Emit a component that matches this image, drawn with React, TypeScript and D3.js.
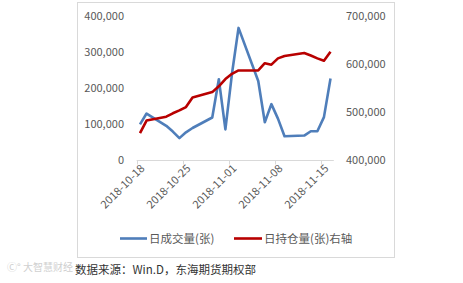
import React from "react";
import * as d3 from "d3";

const dates = [
  "2018-10-18", "2018-10-19", "2018-10-22", "2018-10-23", "2018-10-24", "2018-10-25", "2018-10-26",
  "2018-10-29", "2018-10-30", "2018-10-31", "2018-11-01", "2018-11-02",
  "2018-11-05", "2018-11-06", "2018-11-07", "2018-11-08", "2018-11-09",
  "2018-11-12", "2018-11-13", "2018-11-14", "2018-11-15", "2018-11-16",
];
const volume = [
  100000, 130000, 96000, 80000, 62000, 78000, 90000,
  119000, 225000, 86000, 240000, 367000,
  220000, 106000, 156000, 116000, 67000,
  69000, 81000, 81000, 120000, 227000,
];
const openInterest = [
  457000, 483000, 491000, 498000, 504000, 511000, 531000,
  542000, 554000, 569000, 580000, 587000,
  587000, 602000, 599000, 612000, 617000,
  623000, 618000, 612000, 607000, 626000,
];
const xTickLabels = ["2018-10-18", "2018-10-25", "2018-11-01", "2018-11-08", "2018-11-15"];
const leftTicks = [0, 100000, 200000, 300000, 400000];
const rightTicks = [400000, 500000, 600000, 700000];
const seriesNames = ["日成交量(张)", "日持仓量(张)右轴"];
const sourceText = "数据来源：Win.D，东海期货期权部";

const parse = d3.timeParse("%Y-%m-%d");
const FONT = "'Noto Sans CJK SC', 'Noto Sans', sans-serif";

export default function App() {
  const dayMs = 86400000;
  const start = parse(dates[0])!;
  const end = new Date(parse(dates[dates.length - 1])!.getTime() + dayMs);
  const x = d3.scaleTime().domain([start, end]).range([136.7, 333.8]);
  const xc = (s: string) => x(new Date(parse(s)!.getTime() + dayMs / 2));
  const yL = d3.scaleLinear().domain([0, 400000]).range([160.5, 16]);
  const yR = d3.scaleLinear().domain([400000, 700000]).range([160.5, 16]);
  const fmt = d3.format(",");

  const lineL = d3.line<number>().x((_, i) => xc(dates[i])).y((v) => yL(v));
  const lineR = d3.line<number>().x((_, i) => xc(dates[i])).y((v) => yR(v));

  const blue = "#4F7EBA";
  const red = "#B80000";
  const axisY = yL(0);

  return (
    <svg width={463} height={283} style={{ position: "fixed", left: 0, top: 0, background: "#fff" }}
      fontFamily={FONT}>
      <rect x={0} y={0} width={463} height={283} fill="#fff" />
      <rect x={77.5} y={2.5} width={317} height={255} fill="none" stroke="#d9d9d9" strokeWidth={1} />
      {/* x axis */}
      <line x1={x.range()[0]} x2={x.range()[1]} y1={axisY} y2={axisY} stroke="#d9d9d9" strokeWidth={1} />
      {xTickLabels.map((t) => {
        const tx = Math.round(x(parse(t)!)) + 0.5;
        return (
          <g key={t}>
            <line x1={tx} x2={tx} y1={axisY} y2={axisY + 4} stroke="#d9d9d9" strokeWidth={1} />
            <text transform={`translate(${tx + 5},${axisY + 6}) rotate(-45)`} textAnchor="end"
              fontSize={11} fill="#595959" dy="0.35em">{t}</text>
          </g>
        );
      })}
      {leftTicks.map((v) => (
        <text key={"l" + v} x={124} y={yL(v)} dy="0.35em" textAnchor="end" fontSize={11} fill="#595959">
          {fmt(v)}
        </text>
      ))}
      {rightTicks.map((v) => (
        <text key={"r" + v} x={346} y={yR(v)} dy="0.35em" textAnchor="start" fontSize={11} fill="#595959">
          {fmt(v)}
        </text>
      ))}
      <path d={lineL(volume)!} fill="none" stroke={blue} strokeWidth={2.6} strokeLinejoin="round" />
      <path d={lineR(openInterest)!} fill="none" stroke={red} strokeWidth={2.6} strokeLinejoin="round" />
      {/* legend */}
      <line x1={120} x2={147} y1={238.5} y2={238.5} stroke={blue} strokeWidth={2.6} />
      <text x={149} y={238.5} dy="0.35em" fontSize={11.5} fill="#595959">{seriesNames[0]}</text>
      <line x1={234} x2={262} y1={238.5} y2={238.5} stroke={red} strokeWidth={2.6} />
      <text x={264} y={238.5} dy="0.35em" fontSize={11.5} fill="#595959">{seriesNames[1]}</text>
      {/* watermark */}
      <text x={7} y={271} fontSize={10} fill="#d0d0d0">Ⓒ° 大智慧财经</text>
      <text x={75} y={270} dy="0.35em" fontSize={11.5} fill="#333">{sourceText}</text>
    </svg>
  );
}
